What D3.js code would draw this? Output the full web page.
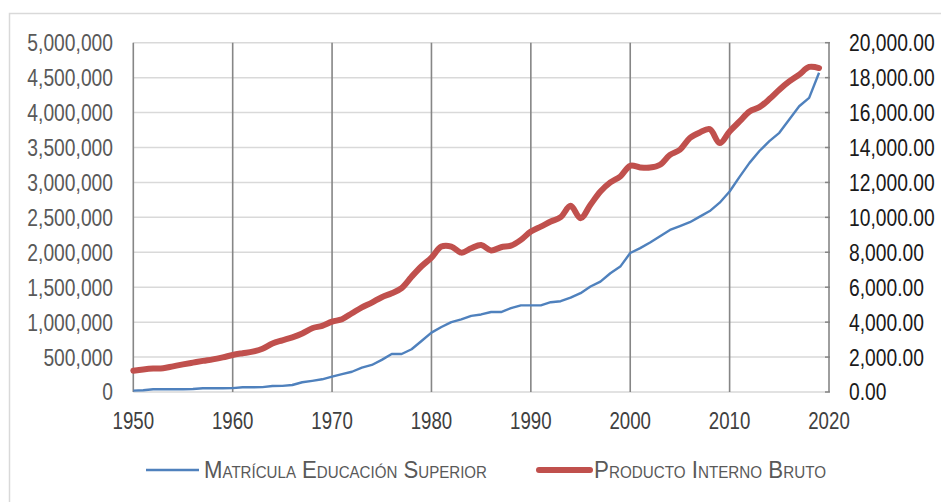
<!DOCTYPE html>
<html><head><meta charset="utf-8">
<script src="https://cdn.jsdelivr.net/npm/d3@7"></script>
<style>
html,body{margin:0;padding:0;background:#fff;}
svg{display:block;}
.t{font-family:"Liberation Sans Narrow","Arial Narrow","Liberation Sans",Arial,sans-serif;}
</style></head><body>
<svg id="c" width="941" height="502"></svg>
<script>
const years = d3.range(1950, 2020);
const matricula = [20000,25000,39000,40000,40000,40000,42000,53000,53000,53000,
 55000,67000,68000,70000,86000,88000,100000,140000,160000,182000,
 220000,255000,290000,348000,387000,460000,544000,544000,612000,730000,
 850000,930000,1000000,1040000,1090000,1110000,1145000,1145000,1200000,1240000,
 1240000,1240000,1285000,1300000,1350000,1414000,1510000,1580000,1700000,1795000,
 1990000,2060000,2139000,2230000,2320000,2375000,2430000,2510000,2590000,2710000,
 2870000,3080000,3280000,3450000,3590000,3710000,3900000,4090000,4210000,4570000];
const pib = [1220,1290,1340,1360,1470,1580,1680,1780,1870,1980,
 2120,2220,2310,2480,2780,2960,3130,3350,3650,3790,
 4030,4170,4510,4850,5120,5430,5650,5950,6600,7200,
 7700,8330,8330,7980,8230,8420,8100,8290,8380,8710,
 9190,9470,9760,10010,10660,9950,10720,11480,12000,12340,
 12950,12860,12850,13010,13580,13870,14540,14860,15050,14250,
 14920,15490,16060,16310,16770,17310,17780,18170,18610,18550];
const leftTicks = [0,500000,1000000,1500000,2000000,2500000,3000000,3500000,4000000,4500000,5000000];
const rightTicks = [0,2000,4000,6000,8000,10000,12000,14000,16000,18000,20000];
const xTicks = [1950,1960,1970,1980,1990,2000,2010,2020];
const seriesNames = ["Matrícula Educación Superior","Producto Interno Bruto"];

const svg = d3.select("#c");
const x = d3.scaleLinear().domain([1950,2020]).range([133.3,829]);
const yL = d3.scaleLinear().domain([0,5000000]).range([392,42.7]);
const yR = d3.scaleLinear().domain([0,20000]).range([392,42.7]);

// check whether narrow font is used; if not, compress horizontally
const probe = svg.append("text").attr("class","t").attr("font-size",23.5).text("20,000.00");
const pw = probe.node().getComputedTextLength();
probe.remove();
const sx = Math.min(1, 85.7 / pw);
const FS = 23.5;

// outer border
svg.append("rect").attr("x",9.5).attr("y",13.5).attr("width",960).attr("height",520)
  .attr("fill","none").attr("stroke","#d9d9d9").attr("stroke-width",1.5);

// horizontal gridlines
svg.append("g").selectAll("line").data(leftTicks).join("line")
  .attr("x1",x(1950)).attr("x2",x(2020))
  .attr("y1",d=>yL(d)).attr("y2",d=>yL(d))
  .attr("stroke","#d9d9d9").attr("stroke-width",1.5);

// vertical gridlines
svg.append("g").selectAll("line").data(xTicks).join("line")
  .attr("x1",d=>x(d)).attr("x2",d=>x(d))
  .attr("y1",yL(5000000)).attr("y2",yL(0))
  .attr("stroke","#868686").attr("stroke-width",1.6);

// right axis ticks
svg.append("g").selectAll("line").data(rightTicks).join("line")
  .attr("x1",x(2020)-4).attr("x2",x(2020)+1)
  .attr("y1",d=>yR(d)).attr("y2",d=>yR(d))
  .attr("stroke","#868686").attr("stroke-width",1.5);

// left axis labels
const fmtL = d3.format(",");
svg.append("g").selectAll("text").data(leftTicks).join("text")
  .attr("class","t").attr("transform",d=>`translate(113,${yL(d)}) scale(${sx},1)`)
  .attr("dy","0.36em")
  .attr("text-anchor","end").attr("font-size",FS).attr("fill","#595959")
  .text(d=>fmtL(d));

// right axis labels
const fmtR = d3.format(",.2f");
svg.append("g").selectAll("text").data(rightTicks).join("text")
  .attr("class","t").attr("transform",d=>`translate(849,${yR(d)}) scale(${sx},1)`)
  .attr("dy","0.36em")
  .attr("text-anchor","start").attr("font-size",FS).attr("fill","#1a1a1a")
  .text(d=>fmtR(d));

// x labels
svg.append("g").selectAll("text").data(xTicks).join("text")
  .attr("class","t").attr("transform",d=>`translate(${x(d)},429) scale(${sx*0.97},1)`)
  .attr("text-anchor","middle").attr("font-size",FS).attr("fill","#404040")
  .text(d=>d);

// lines
const lineL = d3.line().x((d,i)=>x(years[i])).y(d=>yL(d));
const lineR = d3.line().x((d,i)=>x(years[i])).y(d=>yR(d)).curve(d3.curveCatmullRom.alpha(0.5));
svg.append("path").datum(pib).attr("d",lineR).attr("fill","none")
  .attr("stroke","#c0504d").attr("stroke-width",6).attr("stroke-linejoin","round").attr("stroke-linecap","round");
svg.append("path").datum(matricula).attr("d",lineL).attr("fill","none")
  .attr("stroke","#4f81bd").attr("stroke-width",2.4).attr("stroke-linejoin","round");

// legend
const lg = svg.append("g");
lg.append("line").attr("x1",146).attr("x2",199).attr("y1",470).attr("y2",470)
  .attr("stroke","#4f81bd").attr("stroke-width",2.4);
lg.append("text").attr("class","t").attr("x",204).attr("y",470).attr("dy","0.36em")
  .attr("font-size",23.5).attr("fill","#595959").style("font-variant","small-caps")
  .attr("textLength",283).attr("lengthAdjust","spacingAndGlyphs")
  .text(seriesNames[0]);
lg.append("line").attr("x1",539).attr("x2",590).attr("y1",470).attr("y2",470)
  .attr("stroke","#c0504d").attr("stroke-width",6).attr("stroke-linecap","round");
lg.append("text").attr("class","t").attr("x",594).attr("y",470).attr("dy","0.36em")
  .attr("font-size",23.5).attr("fill","#595959").style("font-variant","small-caps")
  .attr("textLength",232).attr("lengthAdjust","spacingAndGlyphs")
  .text(seriesNames[1]);
</script>
</body></html>
